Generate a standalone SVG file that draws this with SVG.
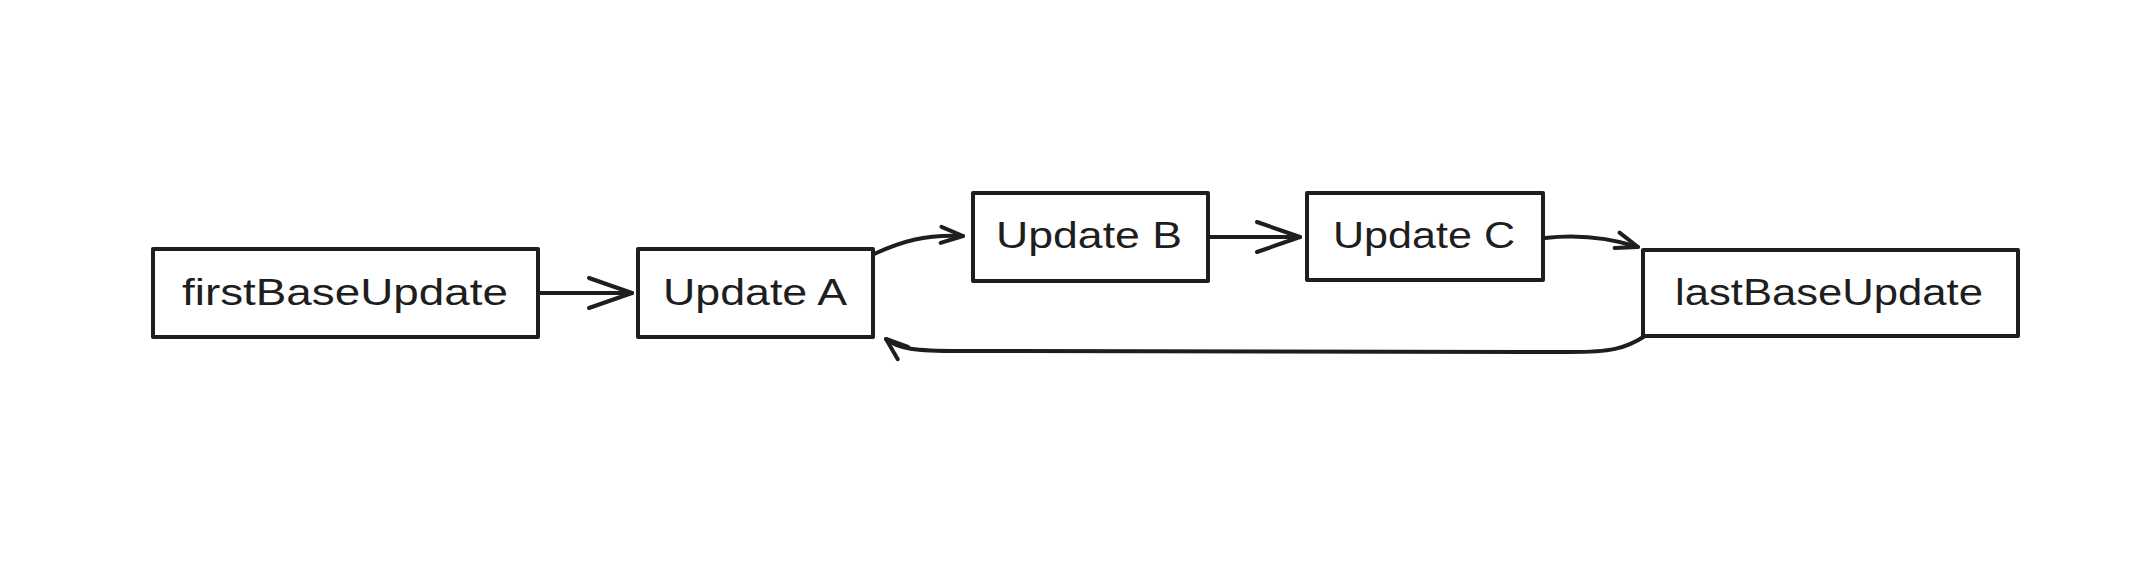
<svg xmlns="http://www.w3.org/2000/svg" width="2148" height="574" viewBox="0 0 2148 574">
  <style>
    .box { fill: #ffffff; stroke: #1e1e1e; stroke-width: 4; stroke-linejoin: round; }
    .lbl { font-family: "Liberation Sans", Arial, sans-serif; font-size: 36px; fill: #1e1e1e; text-anchor: middle; }
    .edge { fill: none; stroke: #1e1e1e; stroke-width: 4; stroke-linecap: round; stroke-linejoin: round; }
    .head { fill: none; stroke: #1e1e1e; stroke-width: 4; stroke-linecap: round; stroke-linejoin: round; }
  </style>
  <defs>
    <marker id="arrowBig" markerUnits="userSpaceOnUse" viewBox="-4 -4 51 38" markerWidth="51" markerHeight="38" refX="43" refY="15" orient="auto" overflow="visible">
      <path class="head" d="M0,0 L43,15 L0,30"/>
    </marker>
    <marker id="arrowSmall" markerUnits="userSpaceOnUse" viewBox="-4 -4 30 24" markerWidth="30" markerHeight="24" refX="22" refY="8" orient="auto" overflow="visible">
      <path class="head" d="M0,0 L22,8 L0,16"/>
    </marker>
  </defs>
  <rect x="0" y="0" width="2148" height="574" fill="#ffffff"/>

  <g id="connectors">
    <path id="e-first-A" class="edge" d="M539,293 L632,293" marker-end="url(#arrowBig)"/>
    <path id="e-A-B" class="edge" d="M874,254 C900,242 925,234 963,236" marker-end="url(#arrowSmall)"/>
    <path id="e-B-C" class="edge" d="M1209,237 L1300,237" marker-end="url(#arrowBig)"/>
    <path id="e-C-last" class="edge" d="M1545,238 C1580,234 1610,238 1638,247" marker-end="url(#arrowSmall)"/>
    <path id="e-last-A" class="edge" d="M1645,336 C1625,349 1610,352 1570,352 L960,351 C915,351 898,349 886,339" marker-end="url(#arrowSmall)"/>
  </g>

  <g id="node-firstBaseUpdate">
    <rect class="box" x="153" y="249" width="385" height="88"/>
    <text class="lbl" x="345" y="305" textLength="326" lengthAdjust="spacingAndGlyphs">firstBaseUpdate</text>
  </g>
  <g id="node-updateA">
    <rect class="box" x="638" y="249" width="235" height="88"/>
    <text class="lbl" x="755" y="305" textLength="184" lengthAdjust="spacingAndGlyphs">Update A</text>
  </g>
  <g id="node-updateB">
    <rect class="box" x="973" y="193" width="235" height="88"/>
    <text class="lbl" x="1089" y="248" textLength="186" lengthAdjust="spacingAndGlyphs">Update B</text>
  </g>
  <g id="node-updateC">
    <rect class="box" x="1307" y="193" width="236" height="87"/>
    <text class="lbl" x="1424" y="248" textLength="182" lengthAdjust="spacingAndGlyphs">Update C</text>
  </g>
  <g id="node-lastBaseUpdate">
    <rect class="box" x="1643" y="250" width="375" height="86"/>
    <text class="lbl" x="1829" y="305" textLength="308" lengthAdjust="spacingAndGlyphs">lastBaseUpdate</text>
  </g>
</svg>
